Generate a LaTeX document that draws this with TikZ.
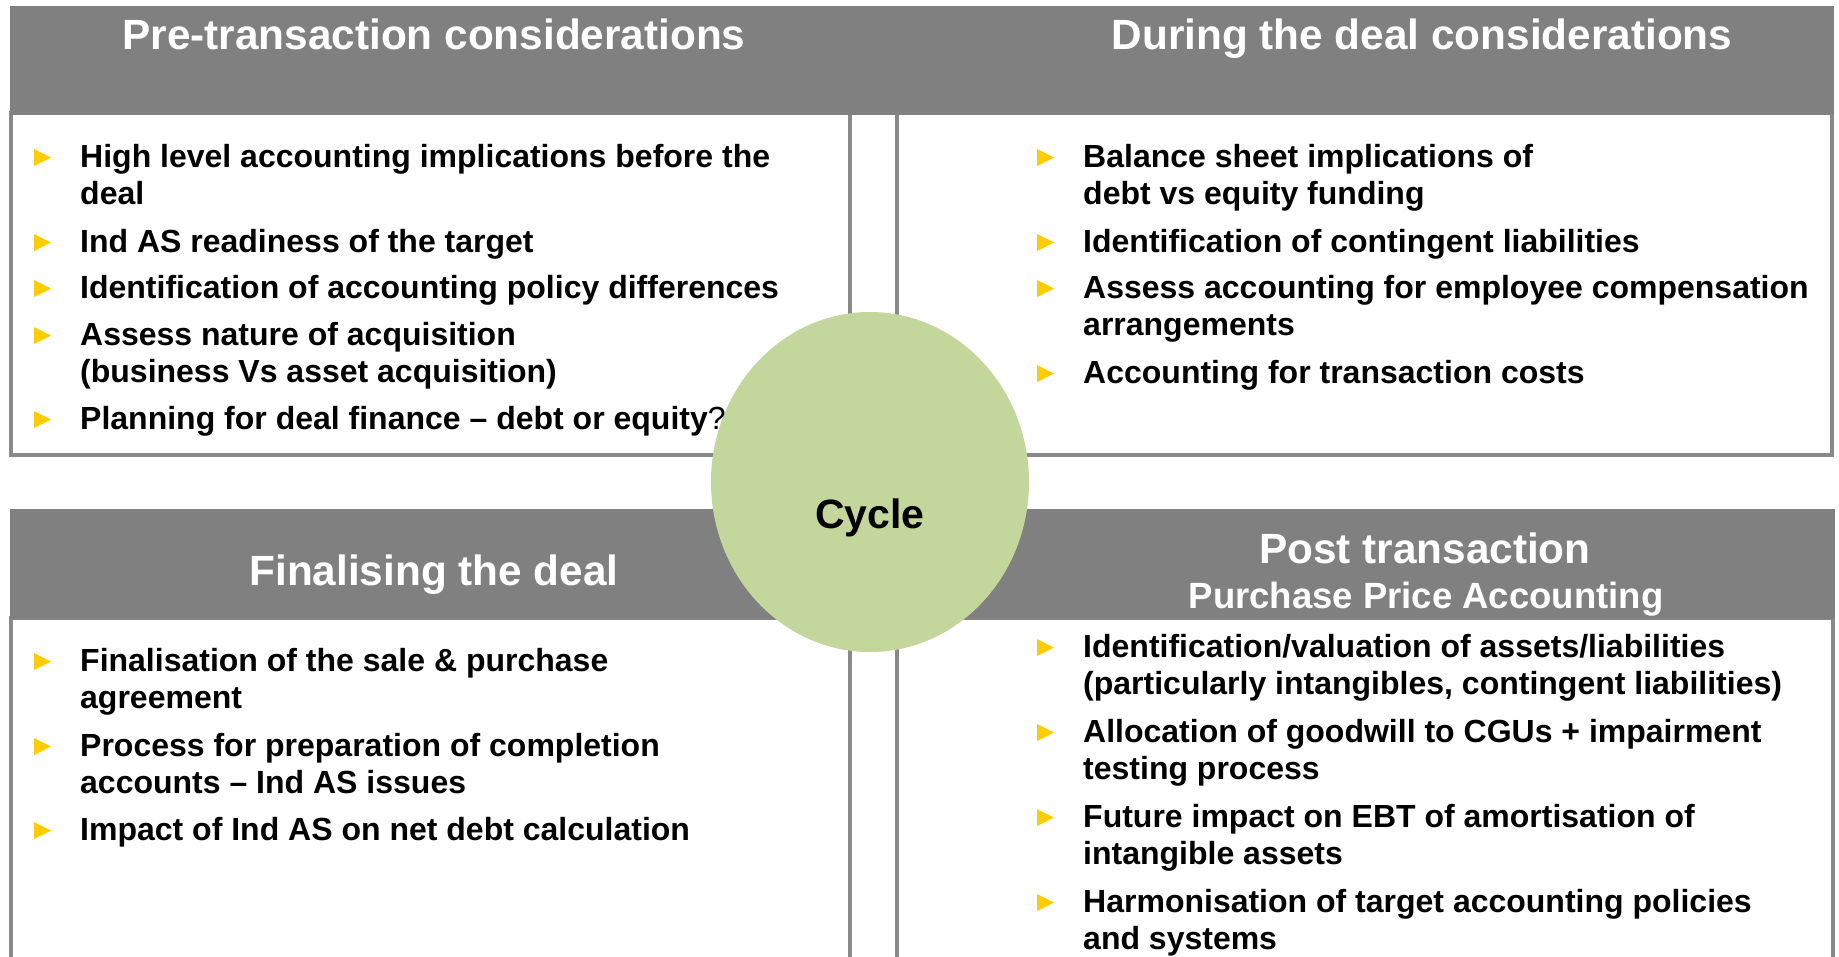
\documentclass[tikz,border=0pt]{standalone}
\usepackage{fontspec}
\setmainfont{Liberation Sans}
\usetikzlibrary{shapes.geometric}
\definecolor{headgrey}{HTML}{808080}
\definecolor{framegrey}{HTML}{898989}
\definecolor{cyclegreen}{HTML}{C3D69B}
\definecolor{bulletgold}{HTML}{FFCC00}
\begin{document}
\begin{tikzpicture}[x=1pt,y=-1pt,
    frame/.style={draw=framegrey,line width=3.5pt},
    band/.style={fill=headgrey},
    headtxt/.style={anchor=base,inner sep=0,text=white,font=\fontsize{42.3}{50}\selectfont\bfseries},
    subtxt/.style={headtxt,font=\fontsize{36.5}{44}\selectfont\bfseries},
    itemtxt/.style={anchor=base west,inner sep=0,align=left,font=\fontsize{32}{37.5}\selectfont\bfseries}]
  \useasboundingbox (0,0) rectangle (1839,956);
  \fill[white] (0,0) rectangle (1839,956);
  % quarter frames
  \draw[frame] (11,113) rectangle (850,455);
  \draw[frame] (897,113) rectangle (1832,455);
  \draw[frame] (11,618) rectangle (850,990);
  \draw[frame] (897,618) rectangle (1833,990);
  % header bands
  \fill[band] (10,6) rectangle (1834,115);
  \fill[band] (10,509) rectangle (1835,619);
  \node[headtxt] (pre) at (434,49) {Pre-transaction considerations};
  \node[headtxt] (during) at (1422,49) {During the deal considerations};
  \node[headtxt] (final) at (434,585) {Finalising the deal};
  \node[headtxt] (post) at (1425,563) {Post transaction};
  \node[subtxt] (ppa) at (1426,608) {Purchase Price Accounting};
  % centre
  \node[ellipse,fill=cyclegreen,minimum width=318pt,minimum height=340pt,inner sep=0] (cycle) at (870,482) {};
  \node[headtxt,text=black,font=\fontsize{41}{48}\selectfont\bfseries] (cyclelbl) at (870,528) {Cycle};
  % left column items (first baseline / extra lines)
  \foreach \n/\y/\k/\txt in {
      a1/167/1/{High level accounting implications before the\\deal},
      a2/252/0/{Ind AS readiness of the target},
      a3/298/0/{Identification of accounting policy differences},
      a4/345/1/{Assess nature of acquisition\\(business Vs asset acquisition)},
      a5/429/0/{Planning for deal finance -- debt or equity{\mdseries ?}},
      c1/671/1/{Finalisation of the sale \& purchase\\agreement},
      c2/756/1/{Process for preparation of completion\\accounts -- Ind AS issues},
      c3/840/0/{Impact of Ind AS on net debt calculation}}{
    \fill[bulletgold] (34,\y-18) -- (51,\y-9.5) -- (34,\y-1) -- cycle;
    \node[itemtxt] (\n) at (80,\y+\k*37.5) {\txt};
  }
  % right column items
  \foreach \n/\y/\k/\txt in {
      b1/167/1/{Balance sheet implications of\\debt vs equity funding},
      b2/252/0/{Identification of contingent liabilities},
      b3/298/1/{Assess accounting for employee compensation\\arrangements},
      b4/383/0/{Accounting for transaction costs},
      d1/657/1/{Identification/valuation of assets/liabilities\\(particularly intangibles, contingent liabilities)},
      d2/742/1/{Allocation of goodwill to CGUs + impairment\\testing process},
      d3/827/1/{Future impact on EBT of amortisation of\\intangible assets},
      d4/912/1/{Harmonisation of target accounting policies\\and systems}}{
    \fill[bulletgold] (1037,\y-18) -- (1054,\y-9.5) -- (1037,\y-1) -- cycle;
    \node[itemtxt] (\n) at (1083,\y+\k*37.5) {\txt};
  }
\end{tikzpicture}
\end{document}
